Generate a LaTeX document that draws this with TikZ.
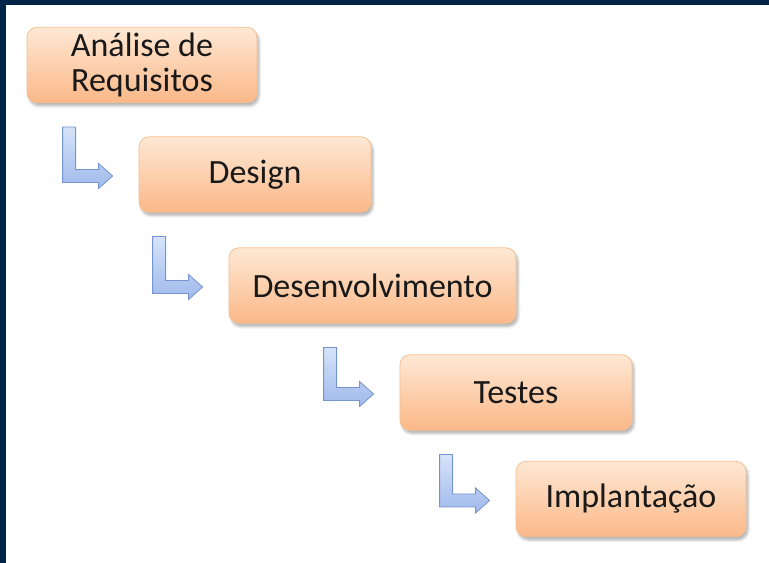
\documentclass[tikz,border=0pt]{standalone}
\usepackage{fontspec}
\setmainfont{Carlito}
\usetikzlibrary{calc,shadows.blur}

\definecolor{frame}{RGB}{2,36,70}
\definecolor{boxtop}{RGB}{254,232,212}
\definecolor{boxbot}{RGB}{251,184,136}
\definecolor{boxline}{RGB}{246,192,146}
\definecolor{arrtop}{RGB}{214,227,249}
\definecolor{arrbot}{RGB}{160,186,236}
\definecolor{arrline}{RGB}{118,148,206}

\begin{document}
\begin{tikzpicture}[x=0.75pt,y=-0.75pt,
  phase/.style={rounded corners=7.5pt, draw=boxline, line width=0.6pt,
    top color=boxtop, bottom color=boxbot, minimum height=56.5pt,
    align=center, text=black!90, font=\fontsize{25.5}{26.5}\selectfont,
    blur shadow={shadow xshift=1.5pt, shadow yshift=-2.5pt,
      shadow blur steps=6, shadow opacity=30}},
  flowarrow/.style={draw=arrline, line width=0.6pt,
    top color=arrtop, bottom color=arrbot}]
\useasboundingbox (0,0) rectangle (769,563);

% Frame
\fill[frame] (0,0) rectangle (769,5);
\fill[frame] (0,0) rectangle (6,563);

% Phases
\node[phase, minimum width=172.5pt] (req) at (142,65) {Análise de\\Requisitos};
\node[phase, minimum width=174pt] (des) at (255,174.5) {Design};
\node[phase, minimum width=215.25pt] (dev) at (372.5,285.5) {Desenvolvimento};
\node[phase, minimum width=174pt] (tst) at (516,392.5) {Testes};
\node[phase, minimum width=172.5pt] (imp) at (631,499) {Implantação};

% Bent arrows
\foreach \a/\b in {req/des, des/dev, dev/tst, tst/imp}{
  \coordinate (w) at (\b.west);
  \coordinate (t) at ($(\a.south -| \b.west)+(-76,24)$);
  \draw[flowarrow] (t) -- ($(t)+(13,0)$) -- ($(w)+(-63,-5)$)
    -- ($(w)+(-40,-5)$) -- ($(w)+(-40,-11)$) -- ($(w)+(-26,1.5)$)
    -- ($(w)+(-40,14)$) -- ($(w)+(-40,8)$) -- ($(w)+(-76,8)$) -- cycle;
}
\end{tikzpicture}
\end{document}
